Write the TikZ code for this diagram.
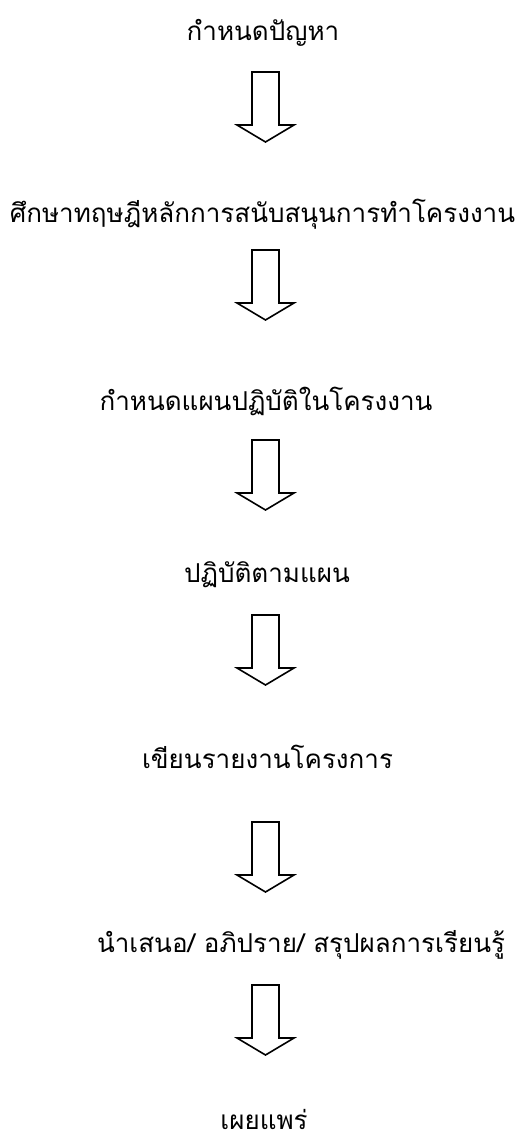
\documentclass[tikz,border=0pt]{standalone}
\usepackage{fontspec}
\newfontfamily\thaifont[Script=Thai]{Loma}
\usetikzlibrary{calc}
\tikzset{
  steptext/.style={font=\thaifont\fontsize{26pt}{30pt}\selectfont, inner sep=0pt, anchor=base},
  blockarrow/.style={draw=black, line width=1.6pt, line join=miter, fill=white}
}
\newcommand{\blockarr}[1]{%
  \draw[blockarrow] (#1) ++(-13.5,0) -- ++(0,53) -- ++(-15,0) -- ++(28.5,17) -- ++(28.5,-17) -- ++(-15,0) -- ++(0,-53) -- cycle;}
\begin{document}
\begin{tikzpicture}[x=1pt,y=-1pt]
\useasboundingbox (0,0) rectangle (521,1135);
\node[steptext] (t1) at (263,40) {กำหนดปัญหา};
\node[steptext] (t2) at (262.5,222) {ศึกษาทฤษฎีหลักการสนับสนุนการทำโครงงาน};
\node[steptext] (t3) at (266,410) {กำหนดแผนปฏิบัติในโครงงาน};
\node[steptext] (t4) at (267,582) {ปฏิบัติตามแผน};
\node[steptext] (t5) at (267.5,768) {เขียนรายงานโครงการ};
\node[steptext] (t6) at (301,952) {นำเสนอ/ อภิปราย/ สรุปผลการเรียนรู้};
\node[steptext, text depth=0pt] (t7) at (264,1129) {เผยแพร่};
\coordinate (a1) at (265.5,72);
\coordinate (a2) at (265.5,250);
\coordinate (a3) at (265.5,440);
\coordinate (a4) at (265.5,615);
\coordinate (a5) at (265.5,822);
\coordinate (a6) at (265.5,985);
\blockarr{a1}
\blockarr{a2}
\blockarr{a3}
\blockarr{a4}
\blockarr{a5}
\blockarr{a6}
\end{tikzpicture}
\end{document}
